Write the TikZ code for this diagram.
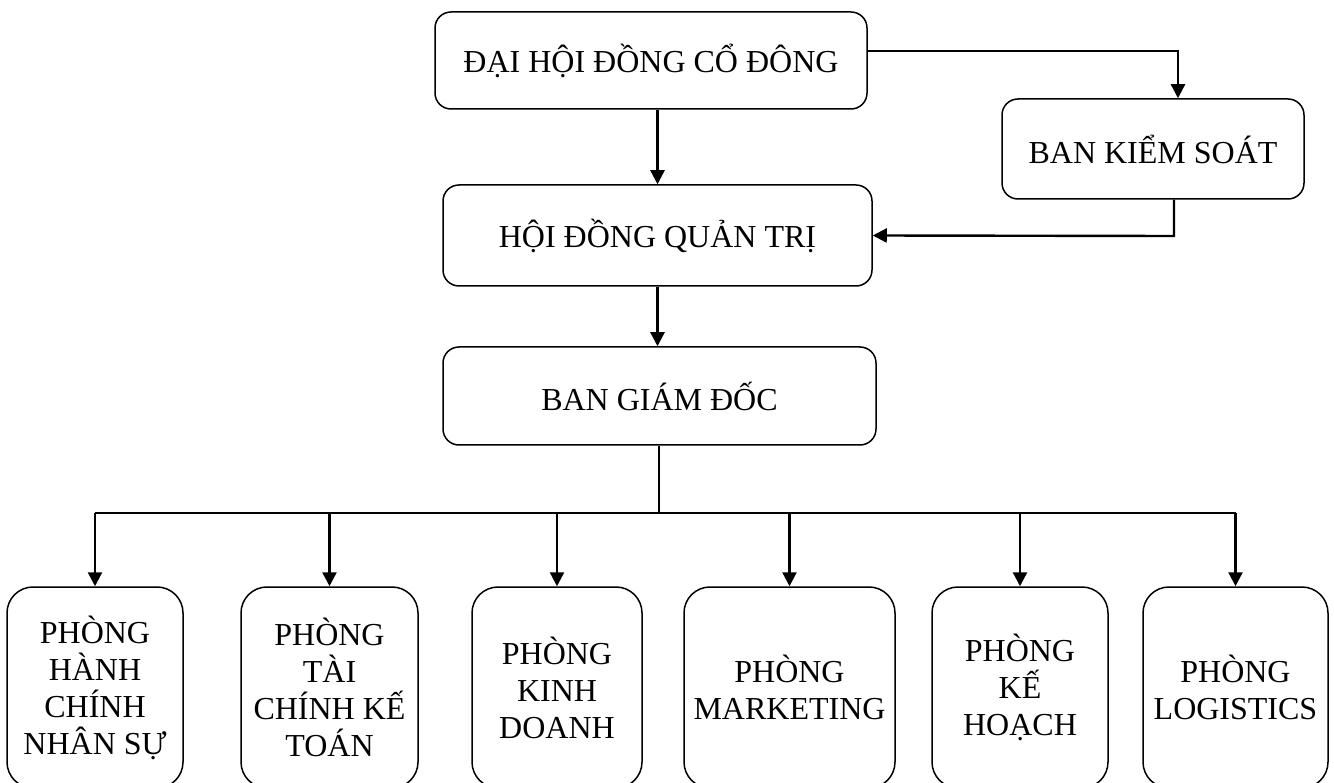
\documentclass[tikz,border=0pt]{standalone}
\usepackage{fontspec}
\setmainfont{Liberation Serif}
\usetikzlibrary{arrows.meta}
\begin{document}
\begin{tikzpicture}[x=1pt,y=-1pt,
 box/.style={draw, line width=1.5pt, rounded corners=16pt, align=center, inner sep=0pt, font=\fontsize{32}{37}\selectfont},
 dept/.style={box, rounded corners=26pt, minimum height=201pt},
 conn/.style={line width=2.4pt, -{Triangle[length=14pt,width=14pt]}},
 wire/.style={line width=2.4pt}]
\useasboundingbox (0,0) rectangle (1334,783);
\clip (0,0) rectangle (1334,783);
\node[box, minimum width=432pt, minimum height=97pt] (dh) at (651,60.5) {ĐẠI HỘI ĐỒNG CỔ ĐÔNG};
\node[box, minimum width=302pt, minimum height=100pt] (bks) at (1153,149) {BAN KIỂM SOÁT};
\node[box, minimum width=429pt, minimum height=101pt] (hd) at (657.5,235.5) {HỘI ĐỒNG QUẢN TRỊ};
\node[box, minimum width=433pt, minimum height=98pt] (bgd) at (659.5,396) {BAN GIÁM ĐỐC};
\node[dept, minimum width=176pt] (p1) at (95,687.5) {PHÒNG\\HÀNH\\CHÍNH\\NHÂN SỰ};
\node[dept, minimum width=177pt] (p2) at (329.5,687.5) {PHÒNG\\TÀI\\CHÍNH KẾ\\TOÁN};
\node[dept, minimum width=170pt] (p3) at (557,687.5) {PHÒNG\\KINH\\DOANH};
\node[dept, minimum width=211pt] (p4) at (789.5,687.5) {PHÒNG\\MARKETING};
\node[dept, minimum width=176pt] (p5) at (1020,687.5) {PHÒNG\\KẾ\\HOẠCH};
\node[dept, minimum width=185pt] (p6) at (1235.5,687.5) {PHÒNG\\LOGISTICS};
\coordinate (c1) at (1178,51);
\coordinate (c2) at (1174,236);
\coordinate (bus) at (659,513);
\draw[conn] (dh.east |- c1) -- (c1) -- (c1 |- bks.north);
\draw[conn] (c2 |- bks.south) -- (c2) -- (hd.east);
\draw[conn] (dh.south -| hd.north) -- (hd.north);
\draw[conn] (hd.south) -- (bgd.north -| hd.south);
\draw[wire] (bgd.south -| bus) -- (bus);
\draw[wire] (bus -| p1.north) -- (bus -| p6.north);
\foreach \p in {p1,p2,p3,p4,p5,p6}
  \draw[conn] (bus -| \p.north) -- (\p.north);
\end{tikzpicture}
\end{document}
